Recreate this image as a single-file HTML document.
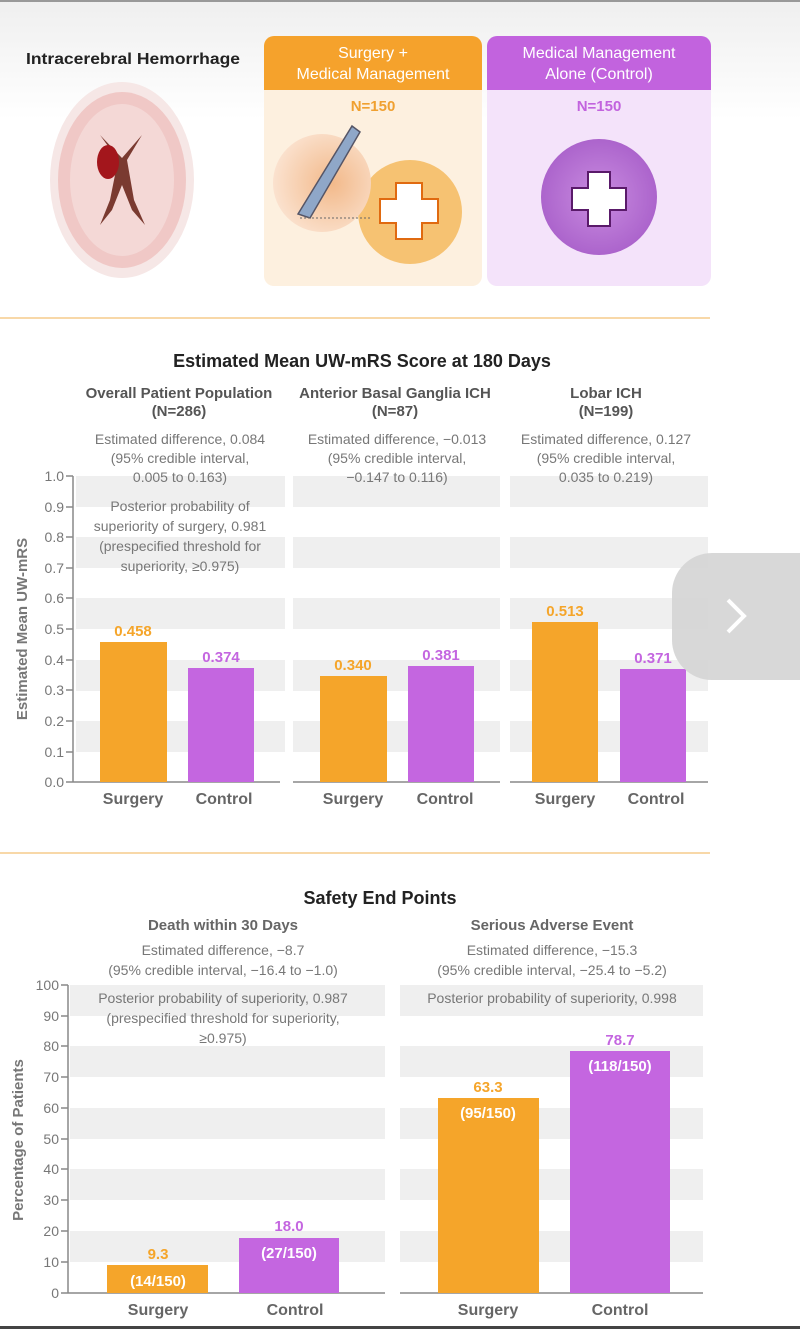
<!DOCTYPE html>
<html><head><meta charset="utf-8"><style>
html,body{margin:0;padding:0;background:#fff}
svg{display:block}
text{font-family:"Liberation Sans",sans-serif}
</style></head><body>
<svg width="800" height="1329" viewBox="0 0 800 1329" xmlns="http://www.w3.org/2000/svg">
<defs>
<linearGradient id="topg" x1="0" y1="0" x2="0" y2="1"><stop offset="0" stop-color="#efefef"/><stop offset="1" stop-color="#fff"/></linearGradient>
<radialGradient id="skin" cx="0.6" cy="0.5" r="0.6"><stop offset="0" stop-color="#f2b98a"/><stop offset="1" stop-color="#fbe2cf"/></radialGradient>
<radialGradient id="purp" cx="0.5" cy="0.5" r="0.6"><stop offset="0" stop-color="#c98ce0"/><stop offset="1" stop-color="#a65cc8"/></radialGradient>
</defs>
<rect x="0" y="0" width="800" height="1329" fill="#fff"/>
<rect x="0" y="0" width="800" height="120" fill="url(#topg)"/>
<rect x="0" y="0" width="800" height="2" fill="#999"/>

<!-- header -->
<text x="26" y="64" font-size="16" font-weight="bold" fill="#222" textLength="214" lengthAdjust="spacingAndGlyphs">Intracerebral Hemorrhage</text>
<ellipse cx="122" cy="180" rx="72" ry="98" fill="#f6e7e6"/>
<ellipse cx="122" cy="180" rx="64" ry="88" fill="#f0c8c6"/>
<ellipse cx="122" cy="180" rx="52" ry="76" fill="#f4d8d6"/>
<path d="M100 135 L118 160 L110 200 L100 225 L112 210 L122 185 L132 210 L145 225 L134 200 L127 160 L142 135 L122 158 Z" fill="#7a3a30"/>
<ellipse cx="108" cy="162" rx="11" ry="17" fill="#a3161c"/>

<rect x="264" y="36" width="218" height="250" rx="10" fill="#fdf0df"/>
<path d="M264 90 V46 a10 10 0 0 1 10 -10 h198 a10 10 0 0 1 10 10 V90 Z" fill="#f5a22c"/>
<text x="373" y="58" font-size="16" fill="#fff" text-anchor="middle">Surgery +</text>
<text x="373" y="79" font-size="16" fill="#fff" text-anchor="middle">Medical Management</text>
<text x="373" y="111" font-size="15" font-weight="bold" fill="#f0a030" text-anchor="middle">N=150</text>
<circle cx="410" cy="212" r="52" fill="#f6c272"/>
<rect x="396" y="183" width="26" height="56" fill="#fff" stroke="#e06a10" stroke-width="2"/>
<rect x="380" y="199" width="58" height="24" fill="#fff" stroke="#e06a10" stroke-width="2"/>
<rect x="397" y="184" width="24" height="54" fill="#fff"/>
<circle cx="322" cy="183" r="49" fill="url(#skin)"/>
<path d="M298 214 L352 126 L360 132 L310 218 Z" fill="#8fa7c8" stroke="#556" stroke-width="1.5"/>
<line x1="300" y1="218" x2="372" y2="218" stroke="#666" stroke-dasharray="2,2"/>

<rect x="487" y="36" width="224" height="250" rx="10" fill="#f4e3fa"/>
<path d="M487 90 V46 a10 10 0 0 1 10 -10 h204 a10 10 0 0 1 10 10 V90 Z" fill="#c263de"/>
<text x="599" y="58" font-size="16" fill="#fff" text-anchor="middle">Medical Management</text>
<text x="599" y="79" font-size="16" fill="#fff" text-anchor="middle">Alone (Control)</text>
<text x="599" y="111" font-size="15" font-weight="bold" fill="#c263de" text-anchor="middle">N=150</text>
<circle cx="599" cy="197" r="58" fill="url(#purp)"/>
<rect x="588" y="172" width="22" height="54" fill="#fff" stroke="#5a1a6a" stroke-width="2"/>
<rect x="572" y="188" width="54" height="22" fill="#fff" stroke="#5a1a6a" stroke-width="2"/>
<rect x="589" y="173" width="20" height="52" fill="#fff"/>

<rect x="0" y="317" width="710" height="2" fill="#f8d8a8"/>

<!-- chart 1 -->
<text x="362" y="367" font-size="18" font-weight="bold" fill="#222" text-anchor="middle">Estimated Mean UW-mRS Score at 180 Days</text>
<g font-size="15" fill="#555" text-anchor="middle">
<text x="179" y="398" font-weight="bold">Overall Patient Population</text>
<text x="179" y="416" font-weight="bold">(N=286)</text>
<text x="395" y="398" font-weight="bold">Anterior Basal Ganglia ICH</text>
<text x="395" y="416" font-weight="bold">(N=87)</text>
<text x="606" y="398" font-weight="bold">Lobar ICH</text>
<text x="606" y="416" font-weight="bold">(N=199)</text>
</g>
<g fill="#efefef">
<rect x="76" y="476" width="209" height="31"/><rect x="76" y="537" width="209" height="31"/><rect x="76" y="598" width="209" height="31"/><rect x="76" y="660" width="209" height="31"/><rect x="76" y="721" width="209" height="31"/>
<rect x="293" y="476" width="207" height="31"/><rect x="293" y="537" width="207" height="31"/><rect x="293" y="598" width="207" height="31"/><rect x="293" y="660" width="207" height="31"/><rect x="293" y="721" width="207" height="31"/>
<rect x="510" y="476" width="198" height="31"/><rect x="510" y="537" width="198" height="31"/><rect x="510" y="598" width="198" height="31"/><rect x="510" y="660" width="198" height="31"/><rect x="510" y="721" width="198" height="31"/>
</g>
<g font-size="14" fill="#777" text-anchor="middle">
<text x="180" y="444">Estimated difference, 0.084</text>
<text x="180" y="463">(95% credible interval,</text>
<text x="180" y="482">0.005 to 0.163)</text>
<text x="180" y="511">Posterior probability of</text>
<text x="180" y="531">superiority of surgery, 0.981</text>
<text x="180" y="551">(prespecified threshold for</text>
<text x="180" y="571">superiority, ≥0.975)</text>
<text x="397" y="444">Estimated difference, −0.013</text>
<text x="397" y="463">(95% credible interval,</text>
<text x="397" y="482">−0.147 to 0.116)</text>
<text x="606" y="444">Estimated difference, 0.127</text>
<text x="606" y="463">(95% credible interval,</text>
<text x="606" y="482">0.035 to 0.219)</text>
</g>
<line x1="73" y1="476" x2="73" y2="782" stroke="#888" stroke-width="1.5"/>
<g stroke="#888" stroke-width="1.5">
<line x1="66" y1="476" x2="73" y2="476"/><line x1="66" y1="507" x2="73" y2="507"/><line x1="66" y1="537" x2="73" y2="537"/><line x1="66" y1="568" x2="73" y2="568"/><line x1="66" y1="598" x2="73" y2="598"/><line x1="66" y1="629" x2="73" y2="629"/><line x1="66" y1="660" x2="73" y2="660"/><line x1="66" y1="690" x2="73" y2="690"/><line x1="66" y1="721" x2="73" y2="721"/><line x1="66" y1="752" x2="73" y2="752"/><line x1="66" y1="782" x2="73" y2="782"/>
<line x1="73" y1="782" x2="280" y2="782"/><line x1="293" y1="782" x2="500" y2="782"/><line x1="510" y1="782" x2="708" y2="782"/>
</g>
<g font-size="14" fill="#777" text-anchor="end">
<text x="64" y="481">1.0</text><text x="64" y="512">0.9</text><text x="64" y="542">0.8</text><text x="64" y="573">0.7</text><text x="64" y="603">0.6</text><text x="64" y="634">0.5</text><text x="64" y="665">0.4</text><text x="64" y="695">0.3</text><text x="64" y="726">0.2</text><text x="64" y="757">0.1</text><text x="64" y="787">0.0</text>
</g>
<text transform="translate(27,629) rotate(-90)" font-size="15" font-weight="bold" fill="#777" text-anchor="middle">Estimated Mean UW-mRS</text>
<rect x="100" y="642" width="67" height="140" fill="#f5a52a"/>
<rect x="188" y="668" width="66" height="114" fill="#c466e0"/>
<rect x="320" y="676" width="67" height="106" fill="#f5a52a"/>
<rect x="408" y="666" width="66" height="116" fill="#c466e0"/>
<rect x="532" y="622" width="66" height="160" fill="#f5a52a"/>
<rect x="620" y="669" width="66" height="113" fill="#c466e0"/>
<g font-size="15" font-weight="bold" text-anchor="middle">
<text x="133" y="636" fill="#f5a52a">0.458</text>
<text x="221" y="662" fill="#c466e0">0.374</text>
<text x="353" y="670" fill="#f5a52a">0.340</text>
<text x="441" y="660" fill="#c466e0">0.381</text>
<text x="565" y="616" fill="#f5a52a">0.513</text>
<text x="653" y="663" fill="#c466e0">0.371</text>
</g>
<g font-size="16" font-weight="bold" fill="#666" text-anchor="middle">
<text x="133" y="804">Surgery</text><text x="224" y="804">Control</text>
<text x="353" y="804">Surgery</text><text x="445" y="804">Control</text>
<text x="565" y="804">Surgery</text><text x="656" y="804">Control</text>
</g>

<!-- nav button -->
<path d="M800 553 H712 a40 40 0 0 0 -40 40 V640 a40 40 0 0 0 40 40 H800 Z" fill="#d4d4d4" opacity="0.9"/>
<path d="M728 600 L744 616 L728 632" fill="none" stroke="#fff" stroke-width="4"/>

<rect x="0" y="852" width="710" height="2" fill="#f8d8a8"/>

<!-- chart 2 -->
<text x="380" y="904" font-size="18" font-weight="bold" fill="#222" text-anchor="middle">Safety End Points</text>
<g font-size="15" font-weight="bold" fill="#666" text-anchor="middle">
<text x="223" y="930">Death within 30 Days</text>
<text x="552" y="930">Serious Adverse Event</text>
</g>
<g fill="#efefef">
<rect x="70" y="985" width="315" height="31"/><rect x="70" y="1046" width="315" height="31"/><rect x="70" y="1108" width="315" height="31"/><rect x="70" y="1169" width="315" height="31"/><rect x="70" y="1231" width="315" height="31"/>
<rect x="400" y="985" width="303" height="31"/><rect x="400" y="1046" width="303" height="31"/><rect x="400" y="1108" width="303" height="31"/><rect x="400" y="1169" width="303" height="31"/><rect x="400" y="1231" width="303" height="31"/>
</g>
<g font-size="14" fill="#777" text-anchor="middle">
<text x="223" y="955">Estimated difference, −8.7</text>
<text x="223" y="975">(95% credible interval, −16.4 to −1.0)</text>
<text x="223" y="1003">Posterior probability of superiority, 0.987</text>
<text x="223" y="1023">(prespecified threshold for superiority,</text>
<text x="223" y="1043">≥0.975)</text>
<text x="552" y="955">Estimated difference, −15.3</text>
<text x="552" y="975">(95% credible interval, −25.4 to −5.2)</text>
<text x="552" y="1003">Posterior probability of superiority, 0.998</text>
</g>
<line x1="68" y1="985" x2="68" y2="1293" stroke="#888" stroke-width="1.5"/>
<g stroke="#888" stroke-width="1.5">
<line x1="61" y1="985" x2="68" y2="985"/><line x1="61" y1="1016" x2="68" y2="1016"/><line x1="61" y1="1046" x2="68" y2="1046"/><line x1="61" y1="1077" x2="68" y2="1077"/><line x1="61" y1="1108" x2="68" y2="1108"/><line x1="61" y1="1139" x2="68" y2="1139"/><line x1="61" y1="1169" x2="68" y2="1169"/><line x1="61" y1="1200" x2="68" y2="1200"/><line x1="61" y1="1231" x2="68" y2="1231"/><line x1="61" y1="1262" x2="68" y2="1262"/><line x1="61" y1="1293" x2="68" y2="1293"/>
<line x1="68" y1="1293" x2="385" y2="1293"/><line x1="400" y1="1293" x2="703" y2="1293"/>
</g>
<g font-size="14" fill="#777" text-anchor="end">
<text x="59" y="990">100</text><text x="59" y="1021">90</text><text x="59" y="1051">80</text><text x="59" y="1082">70</text><text x="59" y="1113">60</text><text x="59" y="1144">50</text><text x="59" y="1174">40</text><text x="59" y="1205">30</text><text x="59" y="1236">20</text><text x="59" y="1267">10</text><text x="59" y="1298">0</text>
</g>
<text transform="translate(23,1140) rotate(-90)" font-size="15" font-weight="bold" fill="#777" text-anchor="middle">Percentage of Patients</text>
<rect x="107" y="1265" width="101" height="28" fill="#f5a52a"/>
<rect x="239" y="1238" width="100" height="55" fill="#c466e0"/>
<rect x="438" y="1098" width="101" height="195" fill="#f5a52a"/>
<rect x="570" y="1051" width="100" height="242" fill="#c466e0"/>
<g font-size="15" font-weight="bold" text-anchor="middle">
<text x="158" y="1259" fill="#f5a52a">9.3</text>
<text x="158" y="1286" fill="#fff">(14/150)</text>
<text x="289" y="1231" fill="#c466e0">18.0</text>
<text x="289" y="1258" fill="#fff">(27/150)</text>
<text x="488" y="1092" fill="#f5a52a">63.3</text>
<text x="488" y="1118" fill="#fff">(95/150)</text>
<text x="620" y="1045" fill="#c466e0">78.7</text>
<text x="620" y="1071" fill="#fff">(118/150)</text>
</g>
<g font-size="16" font-weight="bold" fill="#666" text-anchor="middle">
<text x="158" y="1315">Surgery</text><text x="295" y="1315">Control</text>
<text x="488" y="1315">Surgery</text><text x="620" y="1315">Control</text>
</g>
<rect x="0" y="1326" width="800" height="3" fill="#444"/>
</svg>
</body></html>
